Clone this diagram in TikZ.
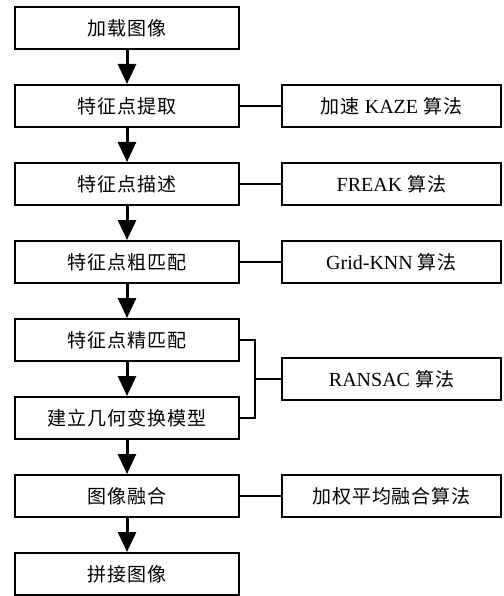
\documentclass[tikz,border=0pt]{standalone}
\usepackage{fontspec}
\setmainfont{Liberation Serif}
\newfontfamily\cjkraw[LetterSpace=5]{Noto Sans CJK SC}
\newcommand{\cjk}{\fontsize{19}{22}\selectfont\cjkraw}
\usetikzlibrary{arrows.meta}
\begin{document}
\begin{tikzpicture}[x=1pt,y=-1pt,
  box/.style={draw, line width=2pt, minimum width=224pt, minimum height=42pt, inner sep=0pt, font=\fontsize{20}{22}\selectfont},
  rbox/.style={box, minimum width=219pt},
  arr/.style={line width=3pt, -{Triangle[width=18pt,length=20pt]}},
  link/.style={line width=2pt}]
\useasboundingbox (0,0) rectangle (503,596);
\node[box] (a) at (127,28) {\cjk 加载图像};
\node[box] (b) at (127,106) {\cjk 特征点提取};
\node[box] (c) at (127,184) {\cjk 特征点描述};
\node[box] (d) at (127,262) {\cjk 特征点粗匹配};
\node[box] (e) at (127,340) {\cjk 特征点精匹配};
\node[box] (f) at (127,418) {\cjk 建立几何变换模型};
\node[box] (g) at (127,496) {\cjk 图像融合};
\node[box] (h) at (127,574) {\cjk 拼接图像};
\node[rbox] (rb) at (391.5,106) {{\cjk 加速} KAZE {\cjk 算法}};
\node[rbox] (rc) at (391.5,184) {FREAK {\cjk 算法}};
\node[rbox] (rd) at (391.5,262) {Grid-KNN {\cjk 算法}};
\node[rbox] (re) at (391.5,379) {RANSAC {\cjk 算法}};
\node[rbox] (rg) at (391.5,496) {\cjk 加权平均融合算法};
\foreach \u/\v in {a/b,b/c,c/d,d/e,e/f,f/g,g/h}
  \draw[arr] (\u.south) -- (\v.north);
\draw[link] (b.east) -- (rb.west);
\draw[link] (c.east) -- (rc.west);
\draw[link] (d.east) -- (rd.west);
\draw[link] (g.east) -- (rg.west);
\coordinate (j) at (255,379);
\draw[link] (e.east) -| (j) |- (f.east);
\draw[link] (j) -- (re.west);
\end{tikzpicture}
\end{document}
